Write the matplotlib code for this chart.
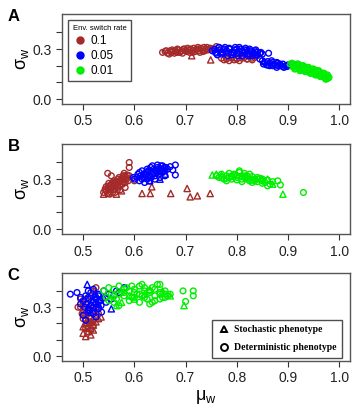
import matplotlib
matplotlib.use("Agg")
import matplotlib.pyplot as plt
from matplotlib.lines import Line2D

# colours for the three switch rates
RED = "#a52a2a"
BLUE = "#0000ff"
GREEN = "#00ee00"

RATES = ["0.1", "0.05", "0.01"]
XTICKS = [0.5, 0.6, 0.7, 0.8, 0.9, 1.0]
YTICKS = [0.0, 0.1, 0.2, 0.3, 0.4]
YTICKLABELS = ["0.0", "", "", "0.3", ""]

# ---- panel A ----
a_red_o_x = [0.655, 0.66, 0.665, 0.67, 0.672, 0.675, 0.68, 0.683, 0.686, 0.69, 0.693, 0.696, 0.70, 0.703,
             0.706, 0.71, 0.713, 0.716, 0.72, 0.723, 0.726, 0.73, 0.733, 0.736, 0.74, 0.744, 0.748, 0.752,
             0.756, 0.76, 0.668, 0.678, 0.688, 0.698, 0.708, 0.718, 0.728, 0.738,
             0.662, 0.674, 0.684, 0.694, 0.704, 0.714, 0.724, 0.734, 0.742,
             0.77, 0.775, 0.78, 0.785, 0.79, 0.795, 0.80, 0.805, 0.81, 0.815, 0.82, 0.825, 0.83, 0.835, 0.84,
             0.78, 0.79, 0.80, 0.81, 0.82, 0.83]
a_red_o_y = [0.28, 0.285, 0.275, 0.29, 0.28, 0.285, 0.29, 0.28, 0.295, 0.285, 0.29, 0.3, 0.29, 0.285,
             0.295, 0.3, 0.29, 0.305, 0.295, 0.3, 0.29, 0.305, 0.295, 0.31, 0.3, 0.295, 0.305, 0.3,
             0.295, 0.315, 0.27, 0.275, 0.28, 0.3, 0.28, 0.285, 0.28, 0.29,
             0.29, 0.295, 0.3, 0.275, 0.305, 0.28, 0.31, 0.285, 0.31,
             0.245, 0.235, 0.24, 0.23, 0.245, 0.235, 0.24, 0.23, 0.245, 0.25, 0.24, 0.255, 0.245, 0.25, 0.26,
             0.25, 0.25, 0.245, 0.255, 0.24, 0.235]
a_red_t_x = [0.712, 0.749]
a_red_t_y = [0.26, 0.235]

a_blue_o_x = [0.752, 0.758, 0.765, 0.77, 0.775, 0.78, 0.785, 0.79, 0.795, 0.80, 0.805, 0.81, 0.815, 0.82,
              0.825, 0.83, 0.835, 0.84, 0.845, 0.85, 0.76, 0.77, 0.78, 0.79, 0.80, 0.81, 0.82, 0.83, 0.84,
              0.775, 0.785, 0.795, 0.805, 0.815, 0.825, 0.835, 0.765, 0.862,
              0.757, 0.767, 0.777, 0.787, 0.797, 0.807, 0.817, 0.827, 0.837, 0.847,
              0.762, 0.772, 0.782, 0.792, 0.802, 0.812, 0.822, 0.832,
              0.85, 0.855, 0.86, 0.865, 0.87, 0.875, 0.88, 0.885, 0.89, 0.895, 0.9,
              0.86, 0.87, 0.88, 0.89, 0.845, 0.868, 0.878,
              0.852, 0.858, 0.864, 0.872, 0.878, 0.884, 0.892, 0.898]
a_blue_o_y = [0.29, 0.28, 0.31, 0.285, 0.295, 0.29, 0.30, 0.28, 0.295, 0.30, 0.285, 0.29, 0.28, 0.295,
              0.27, 0.285, 0.265, 0.28, 0.275, 0.27, 0.275, 0.27, 0.28, 0.265, 0.275, 0.26, 0.27, 0.26, 0.265,
              0.3, 0.305, 0.28, 0.31, 0.295, 0.3, 0.29, 0.31, 0.275,
              0.3, 0.295, 0.31, 0.3, 0.31, 0.3, 0.305, 0.29, 0.295, 0.28,
              0.265, 0.28, 0.26, 0.275, 0.26, 0.275, 0.26, 0.275,
              0.23, 0.22, 0.225, 0.215, 0.22, 0.205, 0.215, 0.2, 0.21, 0.2, 0.205,
              0.205, 0.2, 0.2, 0.195, 0.24, 0.23, 0.22,
              0.21, 0.205, 0.2, 0.21, 0.19, 0.21, 0.19, 0.195]
a_blue_t_x = [0.853, 0.835, 0.82]
a_blue_t_y = [0.225, 0.28, 0.29]

a_green_o_x = [0.905, 0.91, 0.912, 0.915, 0.918, 0.92, 0.923, 0.925, 0.928, 0.93, 0.933, 0.935, 0.938, 0.94,
               0.943, 0.945, 0.948, 0.95, 0.953, 0.955, 0.958, 0.96, 0.963, 0.965, 0.968, 0.97, 0.973, 0.975,
               0.978, 0.98, 0.915, 0.925, 0.935, 0.945, 0.955, 0.965, 0.975, 0.92, 0.93, 0.94, 0.95, 0.96, 0.97,
               0.908, 0.913, 0.918, 0.923, 0.928, 0.933, 0.938, 0.943, 0.948, 0.953, 0.958, 0.963, 0.968,
               0.973, 0.977]
a_green_o_y = [0.21, 0.205, 0.195, 0.205, 0.19, 0.2, 0.185, 0.195, 0.18, 0.19, 0.175, 0.185, 0.17, 0.18,
               0.165, 0.175, 0.16, 0.17, 0.155, 0.165, 0.15, 0.16, 0.145, 0.15, 0.14, 0.145, 0.13, 0.14,
               0.125, 0.13, 0.185, 0.175, 0.165, 0.155, 0.145, 0.135, 0.12, 0.21, 0.2, 0.19, 0.18, 0.17, 0.155,
               0.215, 0.18, 0.21, 0.17, 0.2, 0.165, 0.19, 0.155, 0.18, 0.145, 0.17, 0.135, 0.155,
               0.12, 0.145]
a_green_t_x = [0.91]
a_green_t_y = [0.2]

# ---- panel B ----
b_red_o_x = [0.54, 0.545, 0.548, 0.55, 0.553, 0.555, 0.558, 0.56, 0.562, 0.565, 0.567, 0.57, 0.572, 0.575,
             0.577, 0.58, 0.582, 0.585, 0.588, 0.59, 0.545, 0.55, 0.555, 0.56, 0.565, 0.57, 0.575, 0.58,
             0.585, 0.552, 0.562, 0.572, 0.582, 0.558, 0.568, 0.578,
             0.548, 0.558, 0.568, 0.578, 0.55, 0.56, 0.57, 0.58, 0.586, 0.543,
             0.59, 0.59, 0.548, 0.555, 0.58, 0.60]
b_red_o_y = [0.22, 0.23, 0.215, 0.24, 0.225, 0.25, 0.235, 0.26, 0.245, 0.27, 0.25, 0.28, 0.26, 0.29,
             0.27, 0.3, 0.28, 0.31, 0.29, 0.32, 0.255, 0.26, 0.27, 0.275, 0.285, 0.29, 0.3, 0.31,
             0.3, 0.21, 0.22, 0.235, 0.25, 0.28, 0.3, 0.32,
             0.245, 0.265, 0.26, 0.285, 0.275, 0.29, 0.31, 0.32, 0.325, 0.24,
             0.40, 0.37, 0.335, 0.32, 0.335, 0.29]
b_red_t_x = [0.54, 0.55, 0.565, 0.575, 0.615, 0.631, 0.634, 0.671, 0.703, 0.709, 0.723, 0.748]
b_red_t_y = [0.21, 0.215, 0.21, 0.23, 0.214, 0.214, 0.254, 0.214, 0.244, 0.194, 0.2, 0.214]

b_blue_o_x = [0.60, 0.605, 0.61, 0.612, 0.615, 0.618, 0.62, 0.623, 0.625, 0.628, 0.63, 0.633, 0.635, 0.638,
              0.64, 0.643, 0.645, 0.648, 0.65, 0.653, 0.655, 0.658, 0.66, 0.665, 0.61, 0.62, 0.63, 0.64,
              0.65, 0.66, 0.615, 0.625, 0.635, 0.645, 0.655,
              0.607, 0.617, 0.627, 0.637, 0.647, 0.657, 0.622, 0.632, 0.642, 0.652, 0.662,
              0.67, 0.68, 0.675, 0.68, 0.598]
b_blue_o_y = [0.30, 0.31, 0.29, 0.32, 0.30, 0.33, 0.31, 0.34, 0.30, 0.32, 0.35, 0.31, 0.33, 0.36,
              0.32, 0.34, 0.37, 0.33, 0.35, 0.36, 0.34, 0.37, 0.35, 0.36, 0.34, 0.28, 0.29, 0.30,
              0.31, 0.32, 0.35, 0.36, 0.38, 0.385, 0.38,
              0.33, 0.31, 0.35, 0.34, 0.36, 0.35, 0.32, 0.37, 0.35, 0.38, 0.37,
              0.375, 0.385, 0.355, 0.325, 0.31]
b_blue_t_x = [0.63, 0.65, 0.66]
b_blue_t_y = [0.29, 0.30, 0.33]

b_green_o_x = [0.76, 0.765, 0.77, 0.775, 0.78, 0.785, 0.79, 0.795, 0.80, 0.805, 0.81, 0.815, 0.82, 0.825,
               0.83, 0.835, 0.84, 0.845, 0.85, 0.855, 0.86, 0.865, 0.87, 0.78, 0.79, 0.80, 0.81, 0.82,
               0.83, 0.84, 0.85, 0.86, 0.805, 0.815, 0.825,
               0.77, 0.78, 0.79, 0.80, 0.81, 0.82, 0.83, 0.84, 0.85, 0.785, 0.795, 0.815, 0.835,
               0.88, 0.885, 0.93]
b_green_o_y = [0.32, 0.31, 0.33, 0.30, 0.32, 0.31, 0.30, 0.325, 0.31, 0.34, 0.30, 0.32, 0.31, 0.29,
               0.315, 0.30, 0.285, 0.305, 0.29, 0.28, 0.295, 0.27, 0.285, 0.29, 0.315, 0.295, 0.285, 0.30,
               0.28, 0.3, 0.275, 0.26, 0.35, 0.335, 0.33,
               0.31, 0.305, 0.32, 0.32, 0.315, 0.32, 0.295, 0.31, 0.3, 0.335, 0.33, 0.31, 0.29,
               0.29, 0.265, 0.22]
b_green_t_x = [0.752, 0.76, 0.77, 0.79, 0.85, 0.86, 0.87, 0.89]
b_green_t_y = [0.325, 0.33, 0.325, 0.32, 0.30, 0.30, 0.27, 0.21]

# ---- panel C ----
c_red_o_x = [0.495, 0.5, 0.502, 0.505, 0.507, 0.51, 0.512, 0.515, 0.517, 0.52, 0.522, 0.525,
             0.5, 0.505, 0.51, 0.515, 0.52, 0.525, 0.49, 0.495, 0.515, 0.52, 0.53, 0.498, 0.508,
             0.5, 0.505, 0.51, 0.515, 0.52, 0.525, 0.505, 0.515]
c_red_o_y = [0.3, 0.28, 0.25, 0.22, 0.2, 0.18, 0.24, 0.2, 0.27, 0.22, 0.3, 0.25,
             0.33, 0.35, 0.3, 0.37, 0.4, 0.42, 0.3, 0.35, 0.16, 0.19, 0.26, 0.26, 0.15,
             0.23, 0.26, 0.27, 0.23, 0.28, 0.32, 0.17, 0.21]
c_red_t_x = [0.505, 0.51, 0.5, 0.515, 0.52, 0.505, 0.51, 0.525, 0.53, 0.535, 0.5, 0.52, 0.515, 0.508]
c_red_t_y = [0.12, 0.15, 0.18, 0.17, 0.19, 0.2, 0.22, 0.21, 0.23, 0.24, 0.14, 0.16, 0.13, 0.175]

c_blue_o_x = [0.475, 0.488, 0.495, 0.5, 0.503, 0.506, 0.51, 0.513, 0.516, 0.52, 0.523, 0.526, 0.53, 0.533,
              0.536, 0.54, 0.545, 0.55, 0.555, 0.56, 0.565, 0.57, 0.58, 0.5, 0.505, 0.51, 0.515, 0.52,
              0.525, 0.53, 0.51, 0.52, 0.53, 0.495,
              0.505, 0.515, 0.525, 0.535, 0.545, 0.51, 0.52, 0.53]
c_blue_o_y = [0.38, 0.39, 0.36, 0.34, 0.3, 0.32, 0.35, 0.28, 0.31, 0.33, 0.36, 0.3, 0.38, 0.34,
              0.27, 0.4, 0.36, 0.38, 0.35, 0.37, 0.4, 0.39, 0.42, 0.25, 0.22, 0.28, 0.31, 0.26,
              0.24, 0.29, 0.4, 0.41, 0.33, 0.32,
              0.37, 0.39, 0.35, 0.31, 0.33, 0.36, 0.3, 0.37]
c_blue_t_x = [0.508, 0.555, 0.51, 0.52, 0.53, 0.54, 0.515, 0.525]
c_blue_t_y = [0.44, 0.29, 0.3, 0.35, 0.32, 0.36, 0.27, 0.38]

c_green_o_x = [0.54, 0.545, 0.55, 0.555, 0.56, 0.565, 0.57, 0.575, 0.58, 0.585, 0.59, 0.595, 0.60, 0.605,
               0.61, 0.615, 0.62, 0.625, 0.63, 0.635, 0.64, 0.645, 0.65, 0.655, 0.66, 0.665, 0.67,
               0.55, 0.56, 0.57, 0.58, 0.59, 0.60, 0.61, 0.62, 0.63, 0.64, 0.65, 0.66,
               0.6, 0.61, 0.62, 0.63, 0.64, 0.65, 0.66, 0.58, 0.57, 0.56,
               0.595, 0.615, 0.635, 0.65, 0.695, 0.715, 0.715, 0.70]
c_green_o_y = [0.40, 0.36, 0.42, 0.38, 0.41, 0.35, 0.43, 0.39, 0.37, 0.42, 0.40, 0.36, 0.41, 0.38,
               0.43, 0.37, 0.40, 0.35, 0.39, 0.42, 0.37, 0.44, 0.38, 0.36, 0.40, 0.37, 0.38,
               0.34, 0.33, 0.31, 0.39, 0.34, 0.36, 0.33, 0.36, 0.32, 0.34, 0.35, 0.36,
               0.39, 0.38, 0.42, 0.4, 0.41, 0.39, 0.38, 0.41, 0.38, 0.37,
               0.43, 0.44, 0.33, 0.44, 0.40, 0.40, 0.37, 0.335]
c_green_t_x = [0.565, 0.575, 0.59, 0.62, 0.655, 0.67, 0.697, 0.63, 0.60]
c_green_t_y = [0.31, 0.33, 0.37, 0.38, 0.40, 0.37, 0.31, 0.41, 0.35]

panels = [
    ("A", [(a_red_o_x, a_red_o_y, a_red_t_x, a_red_t_y, RED),
           (a_blue_o_x, a_blue_o_y, a_blue_t_x, a_blue_t_y, BLUE),
           (a_green_o_x, a_green_o_y, a_green_t_x, a_green_t_y, GREEN)]),
    ("B", [(b_red_o_x, b_red_o_y, b_red_t_x, b_red_t_y, RED),
           (b_blue_o_x, b_blue_o_y, b_blue_t_x, b_blue_t_y, BLUE),
           (b_green_o_x, b_green_o_y, b_green_t_x, b_green_t_y, GREEN)]),
    ("C", [(c_red_o_x, c_red_o_y, c_red_t_x, c_red_t_y, RED),
           (c_blue_o_x, c_blue_o_y, c_blue_t_x, c_blue_t_y, BLUE),
           (c_green_o_x, c_green_o_y, c_green_t_x, c_green_t_y, GREEN)]),
]

plt.rcParams["font.family"] = ["Liberation Sans", "DejaVu Sans"]
plt.rcParams["mathtext.fontset"] = "custom"
plt.rcParams["mathtext.rm"] = "Liberation Sans"
fig = plt.figure(figsize=(3.55, 4.13), dpi=100)
boxes = [(0.175, 0.748, 0.811, 0.218),
         (0.175, 0.433, 0.811, 0.218),
         (0.175, 0.126, 0.811, 0.213)]

axes = []
for (letter, series), box in zip(panels, boxes):
    ax = fig.add_axes(box)
    for ox, oy, tx, ty, col in series:
        ax.scatter(ox, oy, s=17, facecolors="none", edgecolors=col, linewidths=1.0, marker="o")
        ax.scatter(tx, ty, s=20, facecolors="none", edgecolors=col, linewidths=1.0, marker="^")
    ax.set_xlim(0.459, 1.021)
    ax.set_ylim(-0.03, 0.51)
    ax.set_xticks(XTICKS)
    ax.set_xticklabels([f"{v:.1f}" for v in XTICKS])
    ax.set_yticks(YTICKS)
    ax.set_yticklabels(YTICKLABELS)
    ax.tick_params(labelsize=10, length=4, width=0.8, color="#333333", labelcolor="#222222")
    for sp in ax.spines.values():
        sp.set_color("#555555")
        sp.set_linewidth(1.0)
    ax.set_ylabel(r"σ$_\mathrm{w}$", fontsize=13, labelpad=1)
    fig.text(0.022, box[1] + box[3] - 0.005, letter, fontsize=12, fontweight="bold", va="center")
    axes.append(ax)

axes[2].set_xlabel(r"μ$_\mathrm{w}$", fontsize=13, labelpad=2)

# colour legend in panel A
rate_handles = [Line2D([], [], marker="o", ls="none", color=c, markersize=5)
                for c in [RED, BLUE, GREEN]]
leg = axes[0].legend(rate_handles, RATES, title="Env. switch rate", loc="upper left",
                     bbox_to_anchor=(0.021, 0.933), fontsize=8.5, title_fontsize=5.5,
                     frameon=True, fancybox=False, edgecolor="#222222", handletextpad=0.3,
                     handlelength=1.2, borderpad=0.4, labelspacing=0.25, borderaxespad=0)
leg.get_frame().set_linewidth(1.0)
leg._legend_box.align = "left"

# marker legend in panel C
shape_handles = [Line2D([], [], marker="^", ls="none", mfc="none", mec="black", mew=1.4, markersize=5),
                 Line2D([], [], marker="o", ls="none", mfc="none", mec="black", mew=1.4, markersize=5)]
leg2 = axes[2].legend(shape_handles, ["Stochastic phenotype", "Deterministic phenotype"],
                      loc="lower right", bbox_to_anchor=(0.972, 0.034), frameon=True, fancybox=False,
                      edgecolor="#222222", prop={"family": "Liberation Serif", "weight": "bold", "size": 7},
                      handletextpad=0.4, handlelength=1.2, borderpad=0.6, labelspacing=0.9, borderaxespad=0)
leg2.get_frame().set_linewidth(1.0)

fig.savefig("out.png", dpi=100)
